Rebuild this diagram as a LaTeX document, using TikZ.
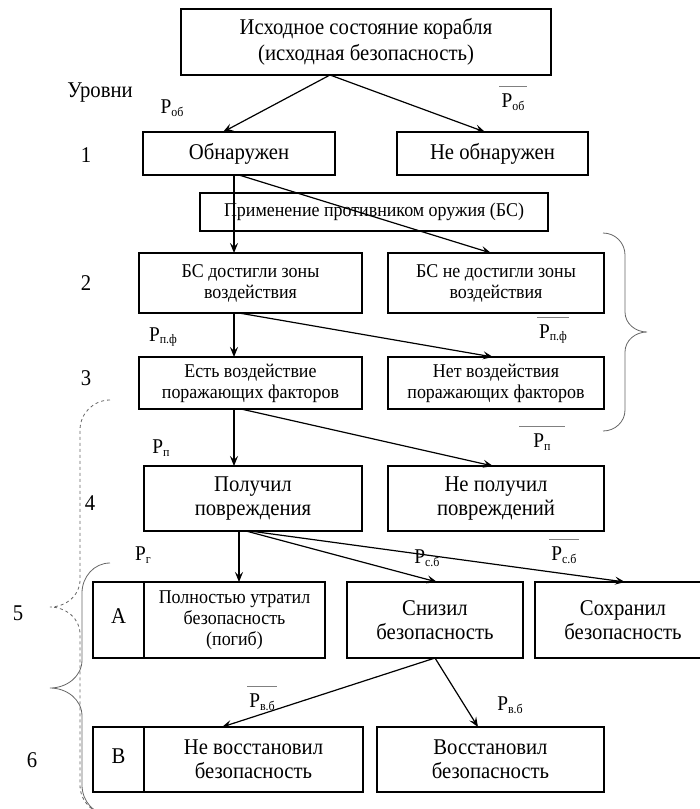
\documentclass[tikz,border=0pt]{standalone}
\usepackage{fontspec}
\setmainfont{Liberation Serif}[FakeStretch=0.92]
\usetikzlibrary{arrows.meta,positioning,calc}

\newcommand{\prob}[1]{P\raisebox{-0.3ex}{\fontsize{13}{13}\selectfont #1}}

\begin{document}
\begin{tikzpicture}[x=1pt,y=-1pt,
 every node/.style={font=\fontsize{22.5}{24}\selectfont},
 box/.style={draw,line width=1.5pt,align=center,inner sep=0pt,outer sep=0pt},
 small/.style={font=\fontsize{19.5}{21}\selectfont},
 arr/.style={-{Stealth[length=10pt,width=8pt,inset=4pt]},line width=1.2pt},
 prb/.style={font=\fontsize{21}{22}\selectfont,inner sep=1pt},
 nprb/.style={prb,inner xsep=2pt,inner ysep=7pt,
   append after command={(\tikzlastnode.north west) edge[draw=gray,line width=1pt] (\tikzlastnode.north east)}},
 brc/.style={draw=black!60,line width=0.8pt}]
\useasboundingbox (0,0) rectangle (700,809);
\clip (0,0) rectangle (700,809);

% states
\node[box,line width=2.6pt,font=\fontsize{22.5}{26}\selectfont,minimum width=370pt,minimum height=66pt] (init) at (366,42) {Исходное состояние корабля\\(исходная безопасность)};
\node[box,minimum width=192pt,minimum height=43pt] (det) at (239,153.5) {Обнаружен};
\node[box,minimum width=191pt,minimum height=43pt] (undet) at (492.5,153.5) {Не обнаружен};
\node[box,small,minimum width=348pt,minimum height=38pt] (use) at (374,212) {Применение противником оружия (БС)};
\node[box,small,minimum width=223pt,minimum height=60pt] (reach) at (250.5,283) {БС достигли зоны\\воздействия};
\node[box,small,minimum width=216pt,minimum height=60pt] (noreach) at (496,283) {БС не достигли зоны\\воздействия};
\node[box,small,minimum width=223pt,minimum height=52pt] (hit) at (250.5,383) {Есть воздействие\\поражающих факторов};
\node[box,small,minimum width=216pt,minimum height=52pt] (nohit) at (496,383) {Нет воздействия\\поражающих факторов};
\node[box,minimum width=218pt,minimum height=65pt] (dmg) at (253,498.5) {Получил\\повреждения};
\node[box,minimum width=216pt,minimum height=65pt] (nodmg) at (496,498.5) {Не получил\\повреждений};
\node[box,small,minimum width=181pt,minimum height=76pt] (lost) at (234.5,620) {Полностью утратил\\безопасность\\(погиб)};
\node[box,line width=1.8pt,minimum width=51pt,minimum height=76pt,anchor=east] (cellA) at (lost.west) {\raisebox{7pt}{А}};
\node[box,minimum width=176pt,minimum height=76pt] (lower) at (435,620) {Снизил\\безопасность};
\node[box,minimum width=176pt,minimum height=76pt] (kept) at (623,620) {Сохранил\\безопасность};
\node[box,minimum width=219pt,minimum height=65pt] (norest) at (253.5,759.5) {Не восстановил\\безопасность};
\node[box,line width=1.8pt,minimum width=51pt,minimum height=65pt,anchor=east] (cellB) at (norest.west) {\raisebox{7pt}{В}};
\node[box,minimum width=227pt,minimum height=65pt] (rest) at (490.5,759.5) {Восстановил\\безопасность};

% transitions
\draw[arr] ([xshift=-36pt]init.south) -- ([xshift=-16pt]det.north);
\draw[arr] ([xshift=-36pt]init.south) -- ([xshift=-7.5pt]undet.north);
\draw[arr] ([xshift=-5pt]det.south) -- ([xshift=-5pt]det.south |- reach.north);
\draw[arr] (det.south) -- ([xshift=-5pt]noreach.north);
\draw[arr] ([xshift=-16.5pt]reach.south) -- ([xshift=-16.5pt]reach.south |- hit.north);
\draw[arr] ([xshift=-11.5pt]reach.south) -- ([xshift=-3pt]nohit.north);
\draw[arr] ([xshift=-16.5pt]hit.south) -- ([xshift=-16.5pt]hit.south |- dmg.north);
\draw[arr] ([xshift=-9.5pt]hit.south) -- ([xshift=-3pt]nodmg.north);
\draw[arr] ([xshift=-14pt]dmg.south) -- ([xshift=-14pt]dmg.south |- lost.north);
\draw[arr] ([xshift=-7pt]dmg.south) -- ([xshift=2pt]lower.north);
\draw[arr] ([xshift=-3pt]dmg.south) -- ([xshift=2pt]kept.north);
\draw[arr] (lower.south) -- ([xshift=-31.5pt]norest.north);
\draw[arr] (lower.south) -- ([xshift=-12.5pt]rest.north);

% levels
\node (lvl) at (100,93) {Уровни};
\foreach \n/\x/\y in {1/86/155,2/86/283,3/86/378,4/90/503,5/18/613,6/32/760}
  \node (lvl\n) at (\x,\y) {\n};

% probabilities
\node[prb] (pdet) at (172,108) {\prob{об}};
\node[nprb] (pundet) at (513,102) {\prob{об}};
\node[prb] (preach) at (163,337) {\prob{п.ф}};
\node[nprb] (pnoreach) at (553,334) {\prob{п.ф}};
\node[prb] (phit) at (161,448) {\prob{п}};
\node[nprb,inner xsep=14pt] (pnohit) at (542,442) {\prob{п}};
\node[prb] (pdead) at (143,555) {\prob{г}};
\node[prb] (plower) at (427,558) {\prob{с.б}};
\node[nprb] (pkept) at (564,555) {\prob{с.б}};
\node[nprb] (pnorest) at (262,702) {\prob{в.б}};
\node[prb] (prest) at (510,705) {\prob{в.б}};

% braces
\draw[brc] (603,233) to[out=0,in=90] (625,255) -- (625,312) to[out=-90,in=180] (647,332)
  to[out=180,in=90] (625,352) -- (625,410) to[out=-90,in=0] (603,431);
\draw[brc,dashed] (110,400) to[out=180,in=90] (80,430) -- (80,580) to[out=-90,in=0] (50,607)
  to[out=0,in=90] (80,634) -- (80,785) to[out=-90,in=180] (110,815);
\draw[brc] (110,563) to[out=180,in=90] (82,593) -- (82,660) to[out=-90,in=0] (50,688)
  to[out=0,in=90] (82,716) -- (82,785) to[out=-90,in=180] (110,815);
\end{tikzpicture}
\end{document}
